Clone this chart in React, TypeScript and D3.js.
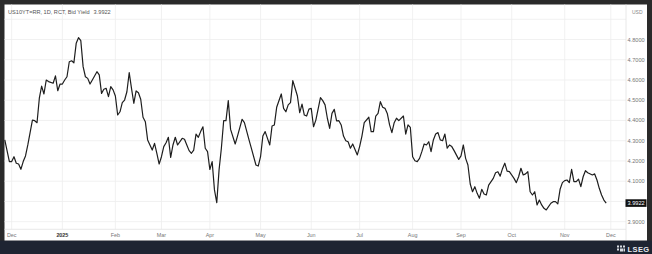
import React from "react";
import * as d3 from "d3";

// ---- data ----
const dates = [
  "2024-11-27","2024-11-29","2024-12-02","2024-12-03","2024-12-04","2024-12-05","2024-12-06","2024-12-09","2024-12-10","2024-12-11",
  "2024-12-13","2024-12-16","2024-12-17","2024-12-18","2024-12-19","2024-12-20","2024-12-23","2024-12-24","2024-12-26","2024-12-27",
  "2024-12-30","2024-12-31","2025-01-01","2025-01-02","2025-01-03","2025-01-06","2025-01-07","2025-01-08","2025-01-09","2025-01-10",
  "2025-01-13","2025-01-14","2025-01-15","2025-01-16","2025-01-17","2025-01-20","2025-01-22","2025-01-23","2025-01-24","2025-01-27",
  "2025-01-28","2025-01-29","2025-01-30","2025-01-31","2025-02-03","2025-02-04","2025-02-05","2025-02-06","2025-02-07","2025-02-10",
  "2025-02-11","2025-02-12","2025-02-13","2025-02-14","2025-02-17","2025-02-18","2025-02-19","2025-02-20","2025-02-21","2025-02-25",
  "2025-02-26","2025-02-27","2025-02-28","2025-03-03","2025-03-04","2025-03-05","2025-03-06","2025-03-07","2025-03-10","2025-03-11",
  "2025-03-12","2025-03-14","2025-03-17","2025-03-18","2025-03-19","2025-03-20","2025-03-21","2025-03-24","2025-03-25","2025-03-26",
  "2025-03-27","2025-03-28","2025-03-31","2025-04-01","2025-04-02","2025-04-03","2025-04-04","2025-04-07","2025-04-08","2025-04-09",
  "2025-04-10","2025-04-11","2025-04-14","2025-04-16","2025-04-17","2025-04-21","2025-04-22","2025-04-24","2025-04-25","2025-04-29",
  "2025-04-30","2025-05-01","2025-05-02","2025-05-05","2025-05-07","2025-05-08","2025-05-09","2025-05-12","2025-05-14","2025-05-15",
  "2025-05-16","2025-05-19","2025-05-20","2025-05-21","2025-05-22","2025-05-23","2025-05-26","2025-05-27","2025-05-28","2025-05-29",
  "2025-05-30","2025-06-02","2025-06-03","2025-06-04","2025-06-06","2025-06-09","2025-06-10","2025-06-11","2025-06-12","2025-06-13",
  "2025-06-16","2025-06-17","2025-06-18","2025-06-19","2025-06-20","2025-06-23","2025-06-24","2025-06-25","2025-06-26","2025-06-30",
  "2025-07-01","2025-07-02","2025-07-03","2025-07-07","2025-07-08","2025-07-09","2025-07-10","2025-07-11","2025-07-14","2025-07-15",
  "2025-07-16","2025-07-17","2025-07-18","2025-07-21","2025-07-22","2025-07-23","2025-07-24","2025-07-28","2025-07-29","2025-07-30",
  "2025-07-31","2025-08-01","2025-08-04","2025-08-05","2025-08-06","2025-08-07","2025-08-08","2025-08-11","2025-08-12","2025-08-13",
  "2025-08-14","2025-08-15","2025-08-18","2025-08-19","2025-08-20","2025-08-21","2025-08-22","2025-08-25","2025-08-26","2025-08-27",
  "2025-08-29","2025-09-01","2025-09-02","2025-09-03","2025-09-04","2025-09-05","2025-09-08","2025-09-09","2025-09-10","2025-09-11",
  "2025-09-12","2025-09-15","2025-09-16","2025-09-17","2025-09-19","2025-09-22","2025-09-23","2025-09-24","2025-09-25","2025-09-26",
  "2025-09-29","2025-09-30","2025-10-02","2025-10-03","2025-10-06","2025-10-07","2025-10-08","2025-10-09","2025-10-10","2025-10-13",
  "2025-10-14","2025-10-15","2025-10-16","2025-10-17","2025-10-20","2025-10-21","2025-10-22","2025-10-24","2025-10-27","2025-10-28",
  "2025-10-29","2025-10-30","2025-10-31","2025-11-03","2025-11-04","2025-11-05","2025-11-06","2025-11-07","2025-11-10","2025-11-11",
  "2025-11-12","2025-11-13","2025-11-14","2025-11-17","2025-11-19","2025-11-20","2025-11-21","2025-11-24","2025-11-25","2025-11-26",
  "2025-11-27",
];

const yields = [
  4.304,4.197,4.197,4.221,4.189,4.185,4.159,4.197,4.225,4.279,
  4.402,4.399,4.389,4.510,4.570,4.531,4.600,4.592,4.584,4.620,
  4.547,4.580,4.580,4.600,4.616,4.690,4.695,4.685,4.781,4.809,
  4.794,4.666,4.616,4.608,4.580,4.600,4.641,4.625,4.534,4.554,
  4.559,4.518,4.567,4.551,4.521,4.427,4.443,4.488,4.501,4.542,
  4.636,4.559,4.485,4.546,4.537,4.505,4.416,4.394,4.304,4.254,
  4.287,4.238,4.185,4.221,4.271,4.290,4.317,4.218,4.279,4.317,
  4.279,4.312,4.307,4.279,4.251,4.238,4.254,4.333,4.317,4.345,
  4.369,4.263,4.246,4.158,4.197,4.057,3.994,4.156,4.263,4.399,
  4.399,4.498,4.356,4.284,4.323,4.406,4.389,4.304,4.263,4.180,
  4.175,4.221,4.323,4.345,4.279,4.373,4.378,4.465,4.531,4.460,
  4.443,4.477,4.488,4.597,4.559,4.521,4.439,4.481,4.427,4.422,
  4.456,4.460,4.369,4.402,4.513,4.498,4.477,4.411,4.361,4.435,
  4.455,4.398,4.399,4.378,4.323,4.300,4.295,4.263,4.284,4.230,
  4.271,4.323,4.389,4.416,4.345,4.345,4.422,4.435,4.493,4.465,
  4.460,4.435,4.378,4.340,4.389,4.411,4.399,4.422,4.333,4.378,
  4.366,4.221,4.201,4.197,4.213,4.246,4.284,4.279,4.295,4.246,
  4.304,4.333,4.340,4.304,4.300,4.333,4.263,4.279,4.271,4.251,
  4.208,4.225,4.279,4.213,4.180,4.086,4.048,4.073,4.040,4.016,
  4.060,4.037,4.032,4.081,4.114,4.142,4.147,4.125,4.162,4.189,
  4.150,4.147,4.114,4.093,4.122,4.164,4.131,4.136,4.147,4.048,
  4.032,4.048,3.983,4.007,3.983,3.966,3.958,3.991,3.999,3.999,
  3.988,4.060,4.093,4.103,4.106,4.093,4.159,4.098,4.098,4.110,
  4.073,4.122,4.152,4.142,4.131,4.136,4.106,4.065,4.032,4.007,
  3.992,
];

const yTicks = [3.9, 4.0, 4.1, 4.2, 4.3, 4.4, 4.5, 4.6, 4.7, 4.8];
const yGridExtra = [4.9];
const monthTicks = [
  "2024-12-01","2025-01-01","2025-02-01","2025-03-01","2025-04-01","2025-05-01","2025-06-01",
  "2025-07-01","2025-08-01","2025-09-01","2025-10-01","2025-11-01","2025-12-01",
];
const monthLabels = ["Dec","2025","Feb","Mar","Apr","May","Jun","Jul","Aug","Sep","Oct","Nov","Dec"];
const titleText = "US10YT=RR, 1D, RCT, Bid Yield";
const lastValueText = "3.9922";
const currencyText = "USD";
const brandText = "LSEG";

// ---- helpers ----
const REF = Date.UTC(2024, 11, 2); // a Monday
function weekdayIndex(s: string): number {
  const [y, m, d] = s.split("-").map(Number);
  const days = Math.round((Date.UTC(y, m - 1, d) - REF) / 864e5);
  const w = Math.floor(days / 7);
  let r = days - w * 7;
  if (r > 4) r = 5; // weekend -> next Monday
  return w * 5 + r;
}

const W = 652;
const H = 254;
const FONT = "'Liberation Sans', Arial, sans-serif";

export default function App() {
  const plotLeft = 4.5;
  const axisX = 626;
  const axisY = 229.3;

  const x = d3.scaleLinear().domain([-2.9, 266.6]).range([5, axisX]);
  const y = d3.scaleLinear().domain([3.9, 4.8]).range([221.7, 39.5]);

  const pts = dates.map((d, i) => [weekdayIndex(d), yields[i]] as [number, number]);
  const line = d3
    .line<[number, number]>()
    .x((p) => x(p[0]))
    .y((p) => y(p[1]));

  const fmt = d3.format(".4f");
  const last = yields[yields.length - 1];
  const tagY = y(last);
  const visibleTicks = yTicks.filter((v) => Math.abs(y(v) - tagY) > 8);

  return (
    <svg
      width={W}
      height={H}
      style={{ position: "absolute", left: 0, top: 0, display: "block" }}
      fontFamily={FONT}
    >
      <rect x={0} y={0} width={W} height={H} fill="#2a2a2a" />
      <rect x={0} y={240.5} width={W} height={H - 240.5} fill="#1e2432" />
      <rect x={plotLeft} y={4.5} width={647 - plotLeft} height={236} fill="#ffffff" />

      {/* horizontal grid */}
      {[...yTicks, ...yGridExtra].map((v) => (
        <line key={"h" + v} x1={plotLeft} x2={axisX} y1={y(v)} y2={y(v)} stroke="#eeeeee" strokeWidth={0.8} />
      ))}
      {/* vertical grid */}
      {monthTicks.map((m) => (
        <line key={"v" + m} x1={x(weekdayIndex(m))} x2={x(weekdayIndex(m))} y1={4.5} y2={axisY} stroke="#eeeeee" strokeWidth={0.8} />
      ))}
      {/* axes borders */}
      <line x1={plotLeft} x2={axisX} y1={axisY} y2={axisY} stroke="#e2e2e2" strokeWidth={0.8} />
      <line x1={axisX} x2={axisX} y1={4.5} y2={240} stroke="#e2e2e2" strokeWidth={0.8} />

      {/* series */}
      <path d={line(pts) || ""} fill="none" stroke="#1e1e1e" strokeWidth={1.2} strokeLinejoin="round" />

      {/* title */}
      <text x={8} y={13.5} fontSize={5.6} fill="#555">
        {titleText}
        <tspan dx={4}>{lastValueText}</tspan>
      </text>
      <text x={632} y={13.5} fontSize={5} fill="#888">{currencyText}</text>

      {/* y labels */}
      {visibleTicks.map((v) => (
        <text key={"yl" + v} x={627.5} y={y(v) + 2} fontSize={5.6} fill="#777">
          {fmt(v)}
        </text>
      ))}
      {/* last value tag */}
      <rect x={625.5} y={tagY - 3.8} width={21} height={7.6} fill="#111" />
      <text x={627.5} y={tagY + 2} fontSize={5.6} fill="#fff">{lastValueText}</text>

      {/* x labels */}
      {monthTicks.map((m, i) => (
        <text
          key={"xl" + m}
          x={x(weekdayIndex(m))}
          y={237}
          fontSize={5.4}
          textAnchor="middle"
          fill={i === 1 ? "#333" : "#777"}
          fontWeight={i === 1 ? "bold" : "normal"}
        >
          {monthLabels[i]}
        </text>
      ))}

      {/* brand */}
      <g fill="#d8dbe2">
        <rect x={617} y={245.5} width={2} height={2} />
        <rect x={620} y={245.5} width={2} height={2} />
        <rect x={623} y={245.5} width={2} height={2} />
        <rect x={617} y={248.5} width={2} height={2} />
        <rect x={620} y={248.5} width={3} height={3} />
        <rect x={623.5} y={248.5} width={1.5} height={3} />
      </g>
      <text x={627.5} y={252} fontSize={7.5} fontWeight="bold" fill="#e6e8ee" letterSpacing={0.4}>
        {brandText}
      </text>
    </svg>
  );
}
